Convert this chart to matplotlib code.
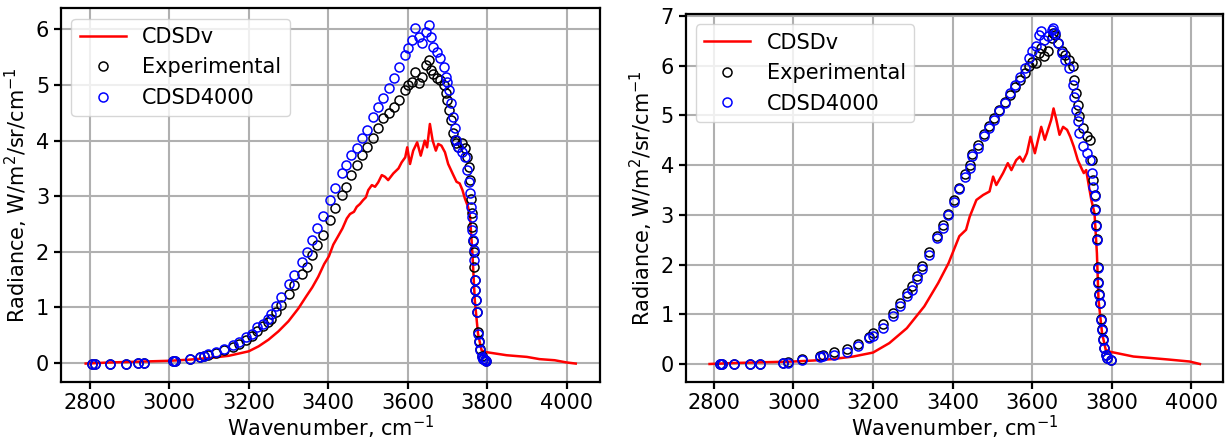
import numpy as np
import matplotlib
matplotlib.use('Agg')
from matplotlib import pyplot as plt

# left panel: CDSDv line
wn_line_l = [2790, 2850, 2900, 2950, 3000, 3050, 3100, 3150, 3200, 3225, 3250, 3275, 3300, 3325, 3345,
             3360, 3375, 3390, 3402, 3413, 3425, 3436, 3447, 3455, 3465, 3472, 3480, 3488, 3495, 3501,
             3510, 3518, 3526, 3535, 3543, 3551, 3564, 3577, 3585, 3594, 3599, 3606, 3614, 3624, 3633,
             3643, 3649, 3656, 3663, 3671, 3677, 3685, 3694, 3702, 3715, 3723, 3731, 3738, 3744, 3752,
             3757, 3763, 3769, 3777, 3786, 3794, 3849, 3900, 3932, 3970, 4000, 4023]
cdsdv_l = [-0.01, 0.01, 0.02, 0.03, 0.04, 0.06, 0.09, 0.13, 0.21, 0.30, 0.42, 0.57, 0.75, 0.98, 1.20,
           1.36, 1.55, 1.78, 1.92, 2.13, 2.28, 2.42, 2.60, 2.68, 2.72, 2.81, 2.86, 2.93, 2.98, 3.11,
           3.20, 3.17, 3.25, 3.38, 3.35, 3.29, 3.41, 3.50, 3.61, 3.70, 3.88, 3.58, 3.82, 3.97, 3.73,
           4.00, 3.88, 4.30, 4.00, 3.82, 3.94, 3.91, 3.79, 3.58, 3.38, 3.26, 3.23, 3.11, 2.96, 2.81,
           2.63, 1.97, 1.13, 0.53, 0.23, 0.20, 0.14, 0.11, 0.07, 0.05, 0.01, -0.01]

# left panel: measured points and CDSD4000
wn_pts_l = [2806, 2814, 2850, 2892, 2922, 2937, 3010, 3014, 3053, 3077, 3088, 3098, 3117, 3139, 3160,
            3177, 3193, 3208, 3222, 3235, 3248, 3256, 3270, 3281, 3302, 3314, 3335, 3346, 3360, 3373,
            3387, 3404, 3418, 3436, 3445, 3458, 3472, 3485, 3498, 3512, 3525, 3539, 3552, 3566, 3579,
            3593, 3601, 3610, 3619, 3628, 3637, 3646, 3655, 3660, 3664, 3673, 3682, 3691, 3696, 3700,
            3704, 3709, 3713, 3718, 3722, 3727, 3736, 3745, 3749, 3754, 3758, 3760, 3761, 3763, 3765,
            3766, 3768, 3769, 3770, 3771, 3775, 3777, 3780, 3782, 3786, 3790, 3794, 3798]
exp_l = [-0.02, -0.02, -0.01, -0.01, 0.0, 0.0, 0.04, 0.04, 0.07, 0.10, 0.12, 0.14, 0.18, 0.24, 0.29,
         0.34, 0.41, 0.48, 0.58, 0.66, 0.74, 0.80, 0.92, 1.05, 1.25, 1.40, 1.60, 1.73, 1.94, 2.12,
         2.30, 2.57, 2.78, 3.02, 3.17, 3.38, 3.56, 3.74, 3.89, 4.04, 4.22, 4.40, 4.49, 4.61, 4.73,
         4.91, 5.00, 5.06, 5.24, 5.03, 5.15, 5.36, 5.45, 5.27, 5.20, 5.12, 5.09, 5.00, 4.85, 4.73,
         4.55, 4.37, 4.13, 4.01, 3.95, 3.89, 3.95, 3.86, 3.71, 3.53, 3.29, 2.95, 2.70, 2.45, 2.20,
         2.00, 1.73, 1.49, 1.31, 1.13, 0.92, 0.55, 0.40, 0.25, 0.12, 0.08, 0.06, 0.04]
cdsd4000_l = [-0.02, -0.02, -0.01, -0.01, 0.0, 0.0, 0.04, 0.04, 0.08, 0.11, 0.13, 0.16, 0.20, 0.26, 0.32,
              0.38, 0.46, 0.53, 0.64, 0.71, 0.80, 0.89, 1.02, 1.19, 1.43, 1.58, 1.82, 2.00, 2.22, 2.42,
              2.64, 2.93, 3.14, 3.41, 3.56, 3.74, 3.86, 4.05, 4.20, 4.42, 4.60, 4.76, 4.94, 5.12, 5.33,
              5.54, 5.66, 5.81, 6.02, 5.87, 5.75, 5.96, 6.08, 5.87, 5.69, 5.60, 5.48, 5.33, 5.15, 5.05,
              4.91, 4.67, 4.43, 4.22, 4.01, 3.89, 3.80, 3.71, 3.47, 3.26, 3.05, 2.81, 2.63, 2.39, 2.21,
              2.03, 1.85, 1.49, 1.31, 1.13, 0.92, 0.53, 0.38, 0.23, 0.11, 0.08, 0.05, 0.04]

# right panel: CDSDv line
wn_line_r = [2789, 2850, 2900, 2950, 3000, 3050, 3100, 3150, 3200, 3241, 3285, 3329, 3364, 3390, 3417,
             3434, 3443, 3460, 3477, 3493, 3502, 3510, 3527, 3539, 3548, 3560, 3569, 3577, 3587, 3596,
             3607, 3615, 3623, 3632, 3640, 3648, 3654, 3661, 3669, 3678, 3688, 3696, 3705, 3715, 3724,
             3730, 3736, 3743, 3749, 3757, 3763, 3767, 3776, 3785, 3794, 3855, 3900, 3943, 3996, 4022]
cdsdv_r = [0.0, 0.02, 0.03, 0.04, 0.05, 0.07, 0.10, 0.15, 0.23, 0.42, 0.72, 1.16, 1.63, 2.03, 2.57,
           2.70, 2.96, 3.30, 3.40, 3.47, 3.77, 3.60, 3.84, 4.04, 3.90, 4.10, 4.17, 4.07, 4.24, 4.57,
           4.24, 4.51, 4.77, 4.51, 4.71, 4.91, 5.14, 4.91, 4.61, 4.77, 4.71, 4.57, 4.37, 4.10, 3.94,
           3.84, 3.90, 3.57, 3.30, 3.03, 2.23, 1.29, 0.62, 0.29, 0.25, 0.15, 0.12, 0.09, 0.05, 0.0]

# right panel: measured points and CDSD4000
wn_pts_r = [2816, 2819, 2851, 2890, 2917, 2974, 2987, 3022, 3066, 3073, 3101, 3134, 3162, 3189, 3200,
            3226, 3250, 3267, 3285, 3298, 3311, 3324, 3342, 3362, 3377, 3388, 3403, 3417, 3432, 3443,
            3450, 3465, 3478, 3491, 3504, 3517, 3531, 3544, 3557, 3570, 3583, 3592, 3601, 3609, 3618,
            3623, 3631, 3640, 3649, 3653, 3658, 3666, 3675, 3684, 3693, 3702, 3706, 3710, 3715, 3719,
            3728, 3737, 3745, 3750, 3754, 3757, 3759, 3760, 3763, 3766, 3767, 3769, 3772, 3773, 3776,
            3778, 3780, 3785, 3789, 3798]
exp_r = [0.01, 0.01, 0.01, 0.01, 0.01, 0.03, 0.04, 0.10, 0.16, 0.18, 0.24, 0.30, 0.40, 0.55, 0.62,
         0.80, 1.02, 1.22, 1.42, 1.57, 1.76, 1.98, 2.25, 2.57, 2.80, 3.02, 3.29, 3.55, 3.82, 4.00,
         4.22, 4.40, 4.62, 4.78, 4.94, 5.10, 5.26, 5.42, 5.58, 5.72, 5.86, 6.00, 6.08, 6.05, 6.25,
         6.35, 6.19, 6.30, 6.55, 6.65, 6.62, 6.45, 6.30, 6.22, 6.12, 6.00, 5.72, 5.45, 5.20, 4.98,
         4.75, 4.58, 4.51, 4.10, 3.70, 3.40, 3.12, 2.80, 2.52, 1.95, 1.65, 1.40, 1.23, 0.90, 0.70,
         0.50, 0.33, 0.19, 0.12, 0.09]
cdsd4000_r = [0.00, 0.00, 0.00, 0.00, 0.00, 0.03, 0.03, 0.09, 0.14, 0.16, 0.19, 0.25, 0.36, 0.52, 0.56,
              0.72, 0.96, 1.16, 1.36, 1.49, 1.70, 1.91, 2.20, 2.53, 2.73, 3.00, 3.25, 3.52, 3.77, 3.94,
              4.18, 4.34, 4.58, 4.75, 4.91, 5.08, 5.25, 5.45, 5.62, 5.78, 5.95, 6.15, 6.29, 6.39, 6.62,
              6.69, 6.52, 6.59, 6.72, 6.76, 6.66, 6.45, 6.25, 6.12, 5.95, 5.62, 5.38, 5.11, 4.88, 4.64,
              4.38, 4.24, 4.11, 3.84, 3.57, 3.37, 3.10, 2.77, 2.50, 1.93, 1.63, 1.39, 1.23, 0.89, 0.69,
              0.49, 0.32, 0.19, 0.12, 0.09]

plt.rcParams['font.size'] = 15
plt.rcParams['axes.linewidth'] = 1.6
plt.rcParams['xtick.major.width'] = 1.6
plt.rcParams['ytick.major.width'] = 1.6
plt.rcParams['xtick.major.size'] = 5
plt.rcParams['ytick.major.size'] = 5

fig = plt.figure(figsize=(12.28, 4.4), dpi=100)
ax1 = fig.add_axes([0.0497, 0.1325, 0.4389, 0.8486])
ax2 = fig.add_axes([0.5584, 0.1325, 0.4375, 0.8357])

panels = [
    (ax1, wn_line_l, cdsdv_l, wn_pts_l, exp_l, cdsd4000_l, (-0.336, 6.38), range(0, 7), (2728, 4084)),
    (ax2, wn_line_r, cdsdv_r, wn_pts_r, exp_r, cdsd4000_r, (-0.356, 7.04), range(0, 8), (2729, 4080)),
]

for ax, wl, yl, wp, ye, yc, ylim, yt, xlim in panels:
    ax.plot(wl, yl, 'r', lw=1.8, label='CDSDv')
    ax.plot(wp, ye, 'o', mfc='none', mec='k', ms=6.5, mew=1.1, label='Experimental')
    ax.plot(wp, yc, 'o', mfc='none', mec='b', ms=6.5, mew=1.1, label='CDSD4000')
    ax.set_xlim(*xlim)
    ax.set_ylim(*ylim)
    ax.set_xticks(np.arange(2800, 4001, 200))
    ax.set_yticks(list(yt))
    ax.tick_params(axis='x', pad=3)
    ax.grid(True, color='#b0b0b0', lw=1.5)
    ax.set_axisbelow(True)
    ax.set_xlabel('Wavenumber, cm$^{-1}$', labelpad=1)
    ax.set_ylabel('Radiance, W/m$^2$/sr/cm$^{-1}$')
    ax.legend(loc='upper left', numpoints=1, handlelength=2.2)

fig.savefig('out.png', dpi=100)
